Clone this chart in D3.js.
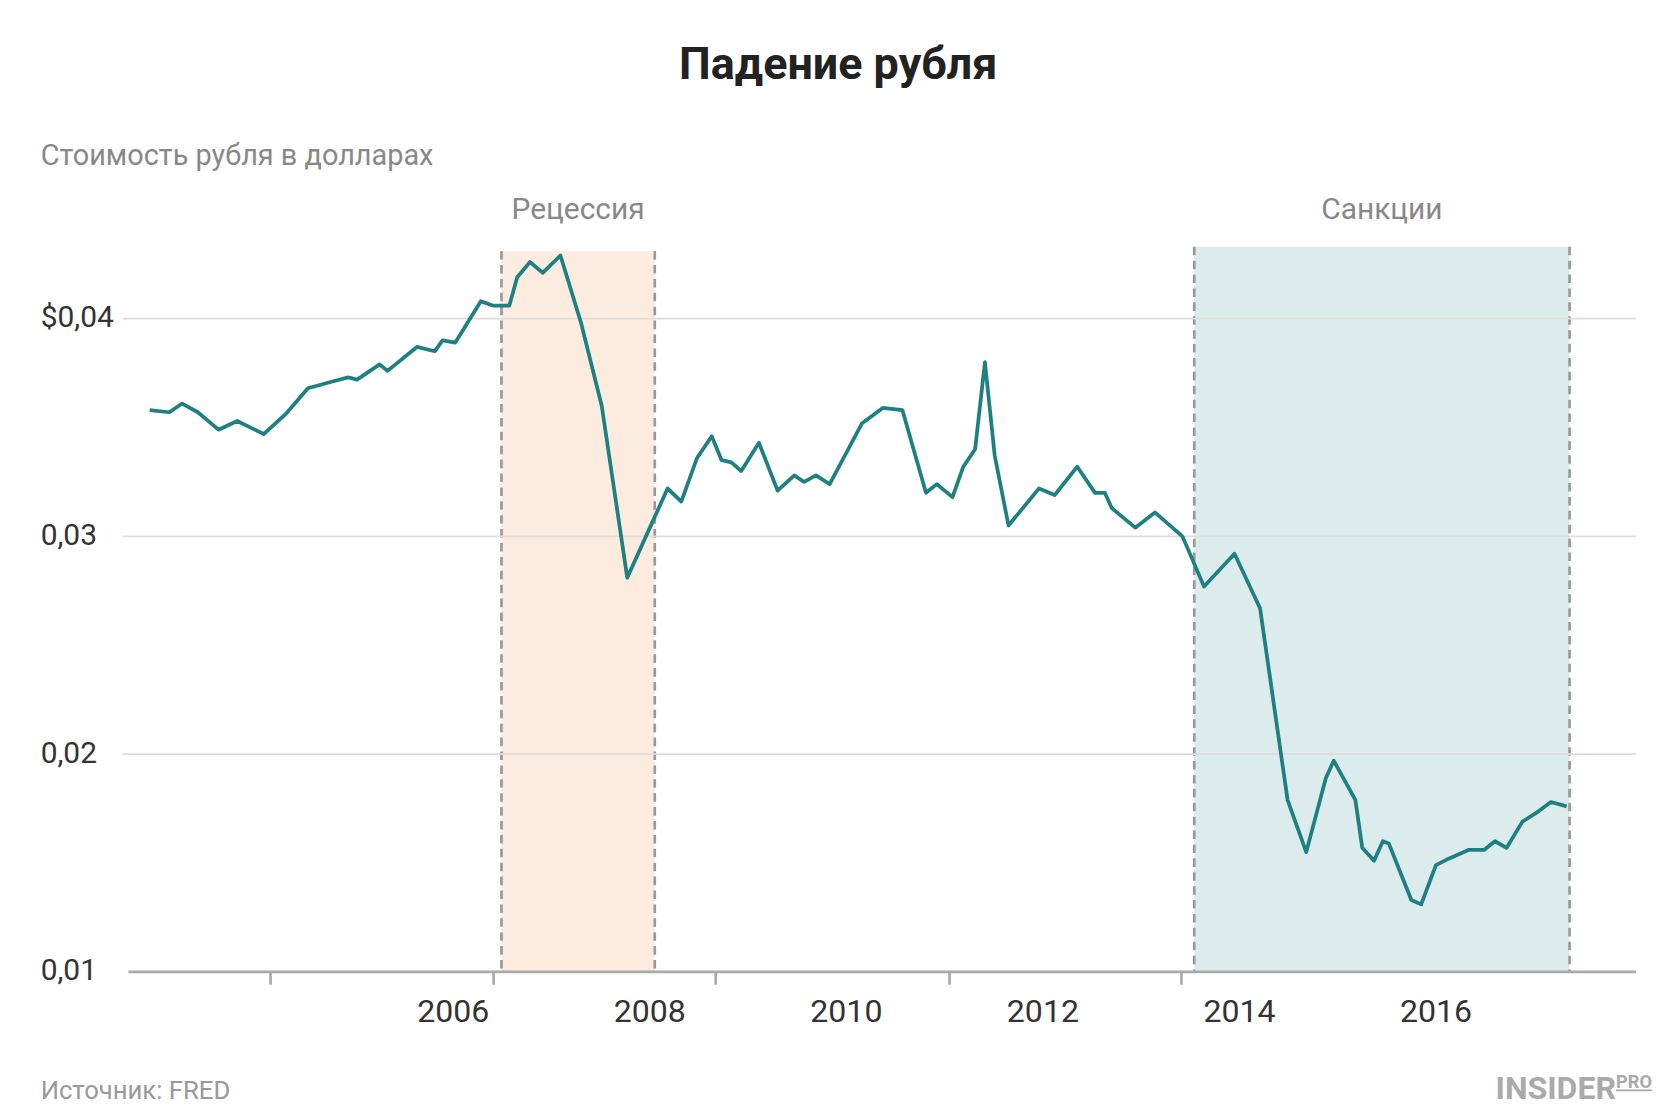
<!DOCTYPE html>
<html><head><meta charset="utf-8">
<script src="https://cdn.jsdelivr.net/npm/d3@7"></script>
<style>body{margin:0;background:#fff}text{font-family:Roboto,"Noto Sans",sans-serif}</style>
</head><body><svg id="c" width="1668" height="1116"></svg>
<script>
const years=[2002.91,2003.11,2003.24,2003.40,2003.61,2003.80,2004.07,2004.29,2004.52,2004.76,2004.93,2005.02,2005.25,2005.33,2005.63,2005.81,2005.89,2006.02,2006.28,2006.40,2006.57,2006.65,2006.78,2006.91,2007.09,2007.30,2007.51,2007.77,2008.03,2008.18,2008.32,2008.48,2008.63,2008.73,2008.83,2008.93,2009.11,2009.30,2009.47,2009.57,2009.69,2009.83,2010.16,2010.37,2010.57,2010.81,2010.92,2011.08,2011.19,2011.31,2011.41,2011.51,2011.65,2011.96,2012.12,2012.35,2012.53,2012.63,2012.70,2012.94,2013.14,2013.42,2013.64,2013.95,2014.21,2014.49,2014.68,2014.88,2014.96,2015.18,2015.25,2015.37,2015.46,2015.52,2015.75,2015.85,2016.00,2016.13,2016.33,2016.49,2016.60,2016.72,2016.88,2017.02,2017.17,2017.33];
const values=[0.0358,0.0357,0.0361,0.0357,0.0349,0.0353,0.0347,0.0356,0.0368,0.0371,0.0373,0.0372,0.0379,0.0376,0.0387,0.0385,0.0390,0.0389,0.0408,0.0406,0.0406,0.0419,0.0426,0.0421,0.0429,0.0398,0.0360,0.0281,0.0307,0.0322,0.0316,0.0336,0.0346,0.0335,0.0334,0.0330,0.0343,0.0321,0.0328,0.0325,0.0328,0.0324,0.0352,0.0359,0.0358,0.0320,0.0324,0.0318,0.0332,0.0340,0.0380,0.0337,0.0305,0.0322,0.0319,0.0332,0.0320,0.0320,0.0313,0.0304,0.0311,0.0300,0.0277,0.0292,0.0267,0.0179,0.0155,0.0189,0.0197,0.0179,0.0157,0.0151,0.0160,0.0159,0.0133,0.0131,0.0149,0.0152,0.0156,0.0156,0.0160,0.0157,0.0169,0.0173,0.0178,0.0176];
const bands=[{label:"Рецессия",from:2006.49,to:2008.05,top:0.0431,color:"#fcebdf"},{label:"Санкции",from:2013.54,to:2017.36,top:0.0433,color:"#dcecec"}];
const yTicks=[0.01,0.02,0.03,0.04];
const yTickLabels=["0,01","0,02","0,03","$0,04"];
const xLabelYears=[2006,2008,2010,2012,2014,2016];
const xTickMarks=[2004.14,2006.41,2008.67,2011.05,2013.41];

const svg=d3.select("#c").append("g").attr("transform","scale(1.0692)");
const x=d3.scaleLinear().domain([2006,2016]).range([424,1343]);
const y=d3.scaleLinear().domain([0.01,0.04]).range([909,298]);

svg.append("text").attr("x",784).attr("y",74).attr("text-anchor","middle").attr("font-size",42).attr("font-weight",700).attr("fill","#222").text("Падение рубля");
svg.append("text").attr("x",38).attr("y",154).attr("font-size",27).attr("fill","#888").text("Стоимость рубля в долларах");

bands.forEach(b=>{
  svg.append("rect").attr("x",x(b.from)).attr("y",y(b.top)).attr("width",x(b.to)-x(b.from)).attr("height",y(0.01)-y(b.top)).attr("fill",b.color);
  [b.from,b.to].forEach(v=>svg.append("line").attr("x1",x(v)).attr("x2",x(v)).attr("y1",y(b.top)).attr("y2",y(0.01)).attr("stroke","#999").attr("stroke-width",2.5).attr("stroke-dasharray","8,5"));
  svg.append("text").attr("x",(x(b.from)+x(b.to))/2).attr("y",205).attr("text-anchor","middle").attr("font-size",28).attr("fill","#888").text(b.label);
});

yTicks.forEach((t,i)=>{
  if(t>0.01) svg.append("line").attr("x1",115).attr("x2",1530).attr("y1",y(t)).attr("y2",y(t)).attr("stroke","#ddd").attr("stroke-width",1.5);
  svg.append("text").attr("x",38).attr("y",y(t)+8).attr("font-size",28).attr("fill","#333").text(yTickLabels[i]);
});
svg.append("line").attr("x1",120).attr("x2",1530).attr("y1",y(0.01)).attr("y2",y(0.01)).attr("stroke","#aaa").attr("stroke-width",2.5);
xTickMarks.forEach(t=>svg.append("line").attr("x1",x(t)).attr("x2",x(t)).attr("y1",y(0.01)).attr("y2",y(0.01)+12).attr("stroke","#aaa").attr("stroke-width",2.5));
xLabelYears.forEach(t=>svg.append("text").attr("x",x(t)).attr("y",956).attr("text-anchor","middle").attr("font-size",30).attr("fill","#333").text(t));

const data=years.map((d,i)=>[d,values[i]]);
svg.append("path").datum(data).attr("d",d3.line().x(d=>x(d[0])).y(d=>y(d[1]))).attr("fill","none").attr("stroke","#1e8082").attr("stroke-width",3.5).attr("stroke-linejoin","round");

svg.append("text").attr("x",38).attr("y",1028).attr("font-size",24).attr("fill","#999").text("Источник: FRED");
const ip=svg.append("text").attr("x",1545).attr("y",1028).attr("text-anchor","end").attr("font-family","'Liberation Serif',serif").attr("font-weight",700).attr("fill","#aaa");
ip.append("tspan").attr("font-size",30).text("INSIDER");
ip.append("tspan").attr("font-size",17).attr("dy",-10).attr("text-decoration","underline").text("PRO");
</script></body></html>
